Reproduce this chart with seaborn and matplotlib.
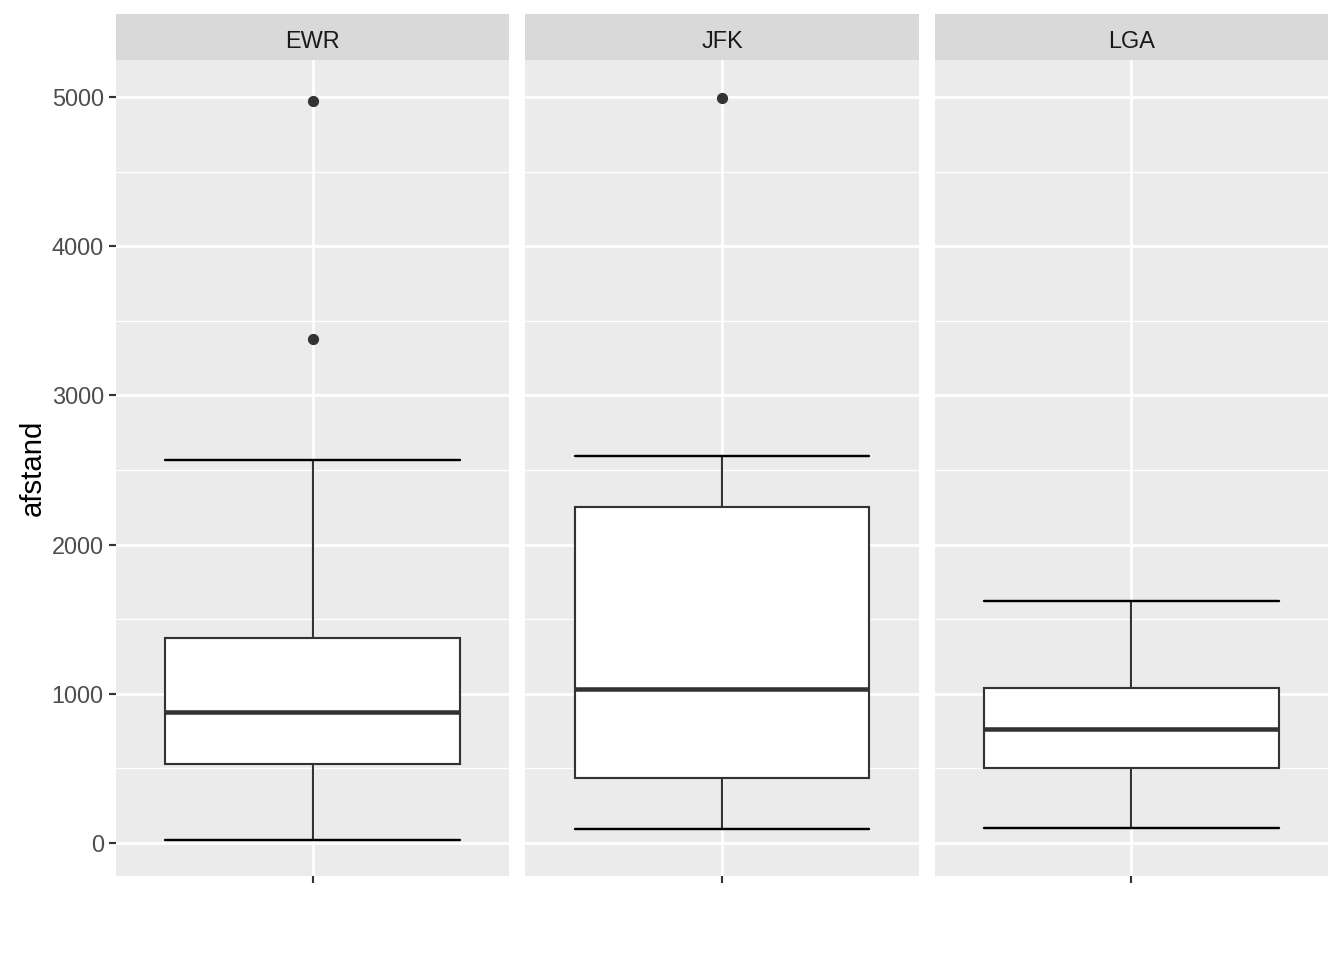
import numpy as np
import pandas as pd
import matplotlib
matplotlib.use("Agg")
import matplotlib.pyplot as plt
import seaborn as sns
from matplotlib.patches import Rectangle
from matplotlib.ticker import MultipleLocator

# Box statistics per origin airport
origins = ["EWR", "JFK", "LGA"]
whisker_low = [20, 94, 100]
q1 = [529, 436, 503]
median = [878, 1032, 764]
q3 = [1374, 2252, 1039]
whisker_high = [2567, 2594, 1622]
outliers = [[4970, 3375], [4990], []]

stats_df = pd.DataFrame(
    {
        "origin": origins,
        "whislo": whisker_low,
        "q1": q1,
        "med": median,
        "q3": q3,
        "whishi": whisker_high,
        "fliers": outliers,
    }
)


def draw_box(data, **kwargs):
    ax = plt.gca()
    row = data.iloc[0]
    stats = [
        {
            "whislo": row["whislo"],
            "q1": row["q1"],
            "med": row["med"],
            "q3": row["q3"],
            "whishi": row["whishi"],
            "fliers": np.array(row["fliers"], dtype=float),
        }
    ]
    ax.bxp(
        stats,
        positions=[0],
        widths=0.75,
        capwidths=0.75,
        patch_artist=True,
        showfliers=True,
        boxprops=dict(facecolor="white", edgecolor="#333333", linewidth=0.8),
        whiskerprops=dict(color="#333333", linewidth=0.8),
        capprops=dict(color="black", linewidth=0.9),
        medianprops=dict(color="#333333", linewidth=1.7, solid_capstyle="butt"),
        flierprops=dict(
            marker="o",
            markerfacecolor="#333333",
            markeredgecolor="#333333",
            markersize=3.2,
        ),
        zorder=3,
    )


sns.set_theme(style="darkgrid")
plt.rcParams["font.family"] = ["Liberation Sans", "DejaVu Sans"]

g = sns.FacetGrid(stats_df, col="origin", col_order=origins, height=5, aspect=7 / 15,
                  sharey=True, despine=False)
g.map_dataframe(draw_box)
fig = g.figure
fig.set_size_inches(7, 5)
fig.subplots_adjust(left=116 / 1344, right=1328 / 1344, bottom=1 - 876 / 960,
                    top=1 - 60 / 960, wspace=16 / 393)

strip_h = 46 / 816
for i, (ax, name) in enumerate(zip(g.axes.flat, origins)):
    ax.set_facecolor("#EBEBEB")
    for s in ax.spines.values():
        s.set_visible(False)
    ax.set_xlim(-0.5, 0.5)
    ax.set_ylim(-221, 5248)
    ax.yaxis.set_major_locator(MultipleLocator(1000))
    ax.yaxis.set_minor_locator(MultipleLocator(500))
    ax.grid(which="major", color="white", linewidth=1.0)
    ax.grid(which="minor", axis="y", color="white", linewidth=0.5)
    ax.set_axisbelow(True)
    ax.set_xticks([0])
    ax.set_xticklabels([""])
    ax.tick_params(axis="x", bottom=True, length=2.6, width=0.8, color="#333333", pad=2)
    ax.tick_params(which="minor", length=0)
    if i == 0:
        ax.tick_params(axis="y", which="major", left=True, length=2.6, width=0.8,
                       color="#333333", labelcolor="#4D4D4D", labelsize=8.8, pad=2)
        ax.set_ylabel("afstand", fontsize=11, color="black", labelpad=2)
    else:
        ax.tick_params(axis="y", which="major", length=0, labelleft=False)
        ax.set_ylabel("")
    ax.set_xlabel("")
    ax.set_title("")
    ax.add_patch(Rectangle((0, 1), 1, strip_h, transform=ax.transAxes,
                           facecolor="#D9D9D9", edgecolor="none", clip_on=False))
    ax.text(0.5, 1 + strip_h / 2 - 2 / 816, name, transform=ax.transAxes, ha="center",
            va="center_baseline", fontsize=8.8, color="#1A1A1A")

fig.savefig("out.png", dpi=192)
